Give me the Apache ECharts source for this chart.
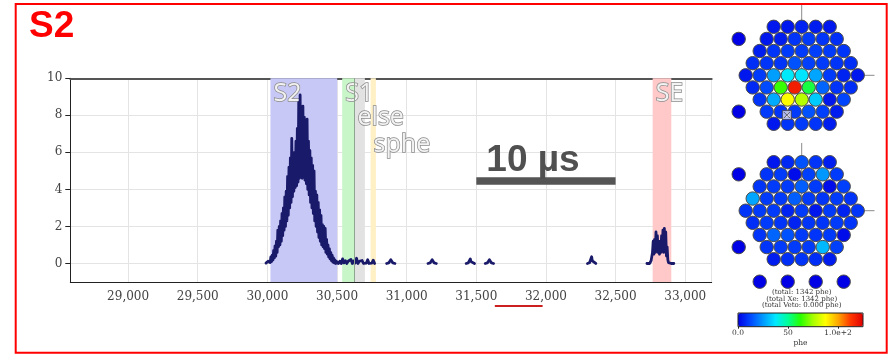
<!DOCTYPE html>
<html>
<head>
<meta charset="utf-8">
<script src="https://cdn.jsdelivr.net/npm/echarts@6/dist/echarts.min.js"></script>
<style>
  html, body { margin: 0; padding: 0; background: #ffffff; }
  #main { width: 889px; height: 355px; }
</style>
</head>
<body>
<div id="main"></div>
<script>
// ---- Summed PMT waveform: [time (ns), phe/sample] ----
const sumS2 = [
  [29990, 0.02], [29995, 0.1], [30000, 0.0], [30005, 0.12], [30010, 0.02], [30015, 0.2],
  [30020, 0.05], [30025, 0.35], [30030, 0.1], [30035, 0.45], [30040, 0.2], [30045, 0.7],
  [30050, 0.3], [30055, 0.95], [30060, 0.4], [30065, 1.2], [30070, 0.6], [30075, 1.8],
  [30080, 0.9], [30085, 2.0], [30090, 1.0], [30095, 2.3], [30100, 1.2], [30105, 2.7],
  [30110, 1.5], [30115, 3.0], [30120, 1.8], [30125, 3.6], [30130, 2.0], [30135, 3.9],
  [30140, 2.3], [30145, 4.7], [30150, 2.6], [30155, 5.2], [30160, 3.0], [30165, 5.7],
  [30170, 3.3], [30175, 6.75], [30180, 3.6], [30185, 5.8], [30190, 3.9], [30195, 6.0],
  [30200, 4.1], [30205, 6.6], [30210, 4.2], [30215, 7.3], [30220, 4.4], [30225, 8.7],
  [30230, 4.6], [30235, 9.1], [30240, 5.0], [30245, 8.4], [30250, 4.6], [30255, 8.5],
  [30260, 4.7], [30265, 7.9], [30270, 4.5], [30275, 7.7], [30280, 4.3], [30285, 7.8],
  [30290, 4.0], [30295, 6.6], [30300, 3.7], [30305, 6.1], [30310, 3.3], [30315, 5.7],
  [30320, 3.0], [30325, 5.3], [30330, 2.7], [30335, 5.0], [30340, 2.3], [30345, 3.9],
  [30350, 2.0], [30355, 3.7], [30360, 1.7], [30365, 3.3], [30370, 1.4], [30375, 2.9],
  [30380, 1.2], [30385, 2.6], [30390, 1.0], [30395, 2.1], [30400, 0.9], [30405, 2.0],
  [30410, 0.8], [30415, 1.9], [30420, 0.6], [30425, 1.3], [30430, 0.5], [30435, 1.0],
  [30440, 0.35], [30445, 0.8], [30450, 0.25], [30455, 0.6], [30460, 0.15], [30465, 0.45],
  [30470, 0.08], [30475, 0.3], [30480, 0.03], [30485, 0.2], [30490, 0.0], [30495, 0.12],
  [30500, 0.02]
];
const sumTail = [
  [30510, 0.0], [30520, 0.12], [30530, 0.0], [30540, 0.25], [30550, 0.03], [30560, 0.15],
  [30570, 0.0], [30580, 0.12], [30590, 0.02], [30600, 0.22], [30610, 0.0], [30620, 0.14],
  [30630, 0.02], [30640, 0.28], [30650, 0.0], [30660, 0.12], [30670, 0.02], [30680, 0.16],
  [30690, 0.0], [30700, 0.1], [30710, 0.02], [30720, 0.2], [30730, 0.0], [30740, 0.1],
  [30750, 0.02], [30760, 0.18], [30770, 0.0]
];
const sumSphe1 = [[30856, 0], [30871, 0.03], [30881, 0.1], [30886, 0.2], [30891, 0.1], [30901, 0.03], [30916, 0]];
const sumSphe2 = [[31153, 0], [31168, 0.03], [31178, 0.1], [31183, 0.2], [31188, 0.1], [31198, 0.03], [31213, 0]];
const sumSphe3 = [[31427, 0], [31442, 0.03], [31452, 0.1], [31457, 0.24], [31462, 0.1], [31472, 0.03], [31487, 0]];
const sumSphe4 = [[31564, 0], [31579, 0.03], [31589, 0.1], [31594, 0.2], [31599, 0.1], [31609, 0.03], [31624, 0]];
const sumSphe5 = [[32298, 0], [32313, 0.04], [32323, 0.14], [32328, 0.36], [32333, 0.14], [32343, 0.04], [32358, 0]];
const sumSE = [
  [32725, 0.0], [32735, 0.1], [32745, 0.0], [32755, 0.15], [32760, 0.05], [32765, 0.6],
  [32770, 1.2], [32775, 0.5], [32780, 1.3], [32785, 0.6], [32790, 1.7], [32795, 0.7],
  [32800, 1.5], [32805, 0.6], [32810, 1.1], [32815, 0.5], [32820, 1.2], [32825, 0.6],
  [32830, 1.5], [32835, 0.7], [32840, 1.8], [32845, 0.6], [32850, 1.9], [32855, 0.7],
  [32860, 1.7], [32865, 0.4], [32870, 0.9], [32875, 0.2], [32880, 0.05], [32890, 0.12],
  [32900, 0.0], [32910, 0.06], [32918, 0.0]
];

// ---- Pulse classification windows (ns) ----
const bandNames = ['S2', 'S1', 'else', 'sphe', 'SE'];
const bandStart = [30022, 30537, 30626, 30741, 32766];
const bandEnd   = [30501, 30624, 30700, 30779, 32900];
const bandColors = ['#c8c8f7', '#c8f6c8', '#e2e2e2', '#fff0c6', '#ffc9c9'];
const bandLabelRow = [0, 0, 1, 2, 0];
const s1Edge = [30624];

// ---- Annotations ----
const scaleBar = [31500, 32500];   // ns
const scaleBarLevel = 4.45;
const scaleBarText = '10 µs';
const cursorSpan = [31633, 31976];
const cursorLevel = -2.3;

// ---- PMT hit pattern (phe), hex rows from top to bottom ----
const topPhe = [
  [4, 4, 6, 5, 4],
  [4, 5, 9, 10, 9, 8],
  [5, 9, 10, 10, 11, 10, 9],
  [8, 9, 9, 14, 11, 10, 9, 8],
  [4, 10, 26, 38, 37, 27, 10, 6, 4],
  [7, 13, 64, 118, 57, 17, 9, 8],
  [9, 28, 88, 77, 33, 4, 12],
  [10, 9, 10, 14, 11, 5],
  [4, 9, 10, 9, 5]
];
const topOuterPhe = [0, 0];
const bottomPhe = [
  [4, 7, 14, 9, 5],
  [9, 10, 2, 11, 25, 10],
  [9, 10, 10, 16, 10, 2, 11],
  [27, 10, 10, 16, 10, 9, 10, 9],
  [9, 10, 10, 6, 10, 4, 10, 6, 9],
  [8, 10, 9, 6, 9, 9, 10, 9],
  [9, 17, 14, 10, 9, 10, 2],
  [9, 10, 10, 10, 30, 11],
  [5, 8, 9, 8, 5]
];
const bottomOuterPhe = [0, 0, 0, 0, 0, 0];
const totalsText = ['(total: 1342 phe)', '(total Xe: 1342 phe)', '(total Veto: 0.000 phe)'];
const colorbarMax = 125;
const colorbarTicks = { 0: '0.0', 50: '50', 100: '1.0e+2' };

// Layout of the arrays, in units of the PMT pitch
const ROW_H = Math.sqrt(3) / 2;
const topOuterPos = [[-4.5, 3 * ROW_H], [-4.5, -3 * ROW_H]];
const bottomOuterPos = [[-4.5, 3 * ROW_H], [-4.5, -3 * ROW_H], [-3, -5.07], [-1, -5.07], [1, -5.07], [3, -5.07]];
const topMarkerPos = [-1.06, -2.84];

function hexPoints(rows, outerPos, outerVals) {
  const mid = (rows.length - 1) / 2;
  const pts = [];
  rows.forEach((row, r) => {
    row.forEach((v, i) => pts.push([i - (row.length - 1) / 2, (mid - r) * ROW_H, v]));
  });
  outerPos.forEach((p, k) => pts.push([p[0], p[1], outerVals[k]]));
  return pts;
}

function gap(t) { return [t, '-']; }
const waveform = [].concat(
  sumS2, sumTail, [gap(30810)],
  sumSphe1, [gap(31000)],
  sumSphe2, [gap(31300)],
  sumSphe3, [gap(31520)],
  sumSphe4, [gap(32000)],
  sumSphe5, [gap(32600)],
  sumSE
);

// Hex-array axes extents (pitch units)
const hexX = [-5.5, 5.2];
const topY = [-5.0, 5.02];
const botY = [-5.8, 4.84];
const PITCH = 14;

const serif = 'DejaVu Serif';
const thousands = v => String(Math.round(v)).replace(/\B(?=(\d{3})+(?!\d))/g, ',');

const bandData = bandNames.map((name, i) => [
  {
    name: name,
    xAxis: bandStart[i],
    itemStyle: { color: bandColors[i] },
    label: { offset: [0, [0, 24.5, 51][bandLabelRow[i]]] }
  },
  { xAxis: bandEnd[i] }
]);

const chart = echarts.init(document.getElementById('main'));
const option = {
  animation: false,
  backgroundColor: '#ffffff',
  title: [
    {
      text: 'S2', left: 29, top: 8, padding: 0,
      textStyle: { color: '#ff0000', fontSize: 37, fontWeight: 'bold', fontFamily: 'Liberation Sans' }
    }
  ].concat(totalsText.map((t, i) => ({
    text: t, left: 801.7, top: 289 + i * 6.3, padding: 0, textAlign: 'center',
    textStyle: { color: '#333', fontSize: 7, fontWeight: 'normal', fontFamily: serif }
  }))),
  graphic: [
    {
      type: 'rect', silent: true, z: 100,
      shape: { x: 15.7, y: 4, width: 871, height: 348.7 },
      style: { fill: 'none', stroke: '#ff0000', lineWidth: 2 }
    }
  ],
  grid: [
    { left: 70.3, top: 78.3, width: 641.4, height: 203.7 },
    { left: 801.7 + hexX[0] * PITCH, top: 75.3 - topY[1] * PITCH,
      width: (hexX[1] - hexX[0]) * PITCH, height: (topY[1] - topY[0]) * PITCH },
    { left: 801.7 + hexX[0] * PITCH, top: 210.7 - botY[1] * PITCH,
      width: (hexX[1] - hexX[0]) * PITCH, height: (botY[1] - botY[0]) * PITCH },
    { left: 738, top: 313, width: 125, height: 13.7, show: true, z: 10,
      borderColor: '#222', borderWidth: 1, backgroundColor: 'transparent' }
  ],
  xAxis: [
    {
      gridIndex: 0, type: 'value', min: 28585, max: 33190, minInterval: 500, maxInterval: 500, splitNumber: 9,
      axisLine: { onZero: false, lineStyle: { color: '#222', width: 1 } },
      axisTick: { show: false },
      axisLabel: { formatter: thousands, color: '#444', fontSize: 12, fontFamily: serif, margin: 9,
                   showMinLabel: false, showMaxLabel: false },
      splitLine: { show: true, lineStyle: { color: '#e4e4e4', width: 1 } }
    },
    {
      gridIndex: 0, type: 'value', position: 'top', min: 28585, max: 33190,
      axisLine: { onZero: false, lineStyle: { color: '#555', width: 2 } },
      axisTick: { show: false }, axisLabel: { show: false }, splitLine: { show: false }
    },
    { gridIndex: 1, type: 'value', min: hexX[0], max: hexX[1], show: false },
    { gridIndex: 2, type: 'value', min: hexX[0], max: hexX[1], show: false },
    {
      gridIndex: 3, type: 'value', min: 0, max: colorbarMax, interval: 50,
      name: 'phe', nameLocation: 'middle', nameGap: 12,
      nameTextStyle: { color: '#333', fontSize: 7.5, fontFamily: serif },
      axisLine: { show: false },
      axisTick: { show: true, length: 2, lineStyle: { color: '#222' } },
      axisLabel: { formatter: v => colorbarTicks[v] || '', color: '#333', fontSize: 7.5,
                   fontFamily: serif, margin: 2.5, showMaxLabel: false },
      splitLine: { show: false }
    }
  ],
  yAxis: [
    {
      gridIndex: 0, type: 'value', min: -1, max: 10, minInterval: 2, maxInterval: 2, splitNumber: 5,
      axisLine: { show: true, onZero: false, lineStyle: { color: '#222', width: 1 } },
      axisTick: { show: true, length: 5, lineStyle: { color: '#222' } },
      axisLabel: { color: '#444', fontSize: 12, fontFamily: serif, margin: 8, showMinLabel: false },
      splitLine: { show: true, lineStyle: { color: '#e4e4e4', width: 1 } }
    },
    { gridIndex: 1, type: 'value', min: topY[0], max: topY[1], show: false },
    { gridIndex: 2, type: 'value', min: botY[0], max: botY[1], show: false },
    { gridIndex: 3, type: 'value', min: 0, max: 1, show: false }
  ],
  visualMap: {
    type: 'continuous', seriesIndex: [5, 8], min: 0, max: colorbarMax, dimension: 2,
    orient: 'horizontal', left: 738, top: 313, itemWidth: 13.7, itemHeight: 125,
    padding: 0, calculable: false, hoverLink: false, text: null, z: 5,
    inRange: { color: ['#0000e6', '#0048ff', '#0098ff', '#00e8ff', '#00ff98', '#28ff00',
                       '#a8ff00', '#ffff00', '#ffa800', '#ff3800', '#e00000'] }
  },
  series: [
    {
      // 0: classification windows
      type: 'line', xAxisIndex: 0, yAxisIndex: 0, data: [], z: 1, silent: true,
      markArea: {
        silent: true,
        label: {
          show: true, position: 'insideTopLeft', distance: 3,
          color: '#f2f2f2', fontSize: 25, fontFamily: 'Open Sans',
          textBorderColor: '#8c8c8c', textBorderWidth: 1.5
        },
        data: bandData
      },
      markLine: {
        silent: true, symbol: 'none', label: { show: false },
        lineStyle: { color: '#8fa58f', width: 1, type: 'solid' },
        data: s1Edge.map(v => ({ xAxis: v }))
      }
    },
    {
      // 1: summed waveform
      type: 'line', xAxisIndex: 0, yAxisIndex: 0, data: waveform, z: 3,
      showSymbol: false, symbol: 'none', connectNulls: false,
      lineStyle: { color: '#1a1a6a', width: 2.8, join: 'round', cap: 'round' }
    },
    {
      // 2: time scale bar
      type: 'line', xAxisIndex: 0, yAxisIndex: 0, z: 4, symbolSize: 0, showSymbol: true,
      lineStyle: { color: '#555', width: 7.5, cap: 'butt' },
      data: [
        { value: [scaleBar[0], scaleBarLevel],
          label: { show: true, formatter: scaleBarText, position: [10, -2], verticalAlign: 'bottom',
                   align: 'left', color: '#505050', fontSize: 37, fontWeight: 'bold',
                   fontFamily: 'Liberation Sans' } },
        [scaleBar[1], scaleBarLevel]
      ]
    },
    {
      // 3: cursor span under the time axis
      type: 'line', xAxisIndex: 0, yAxisIndex: 0, z: 4, clip: false, symbol: 'none',
      lineStyle: { color: '#cc1f1f', width: 2 },
      data: cursorSpan.map(t => [t, cursorLevel])
    },
    {
      // 4: top array reference axes
      type: 'line', xAxisIndex: 2, yAxisIndex: 1, z: 1, symbol: 'none', silent: true,
      lineStyle: { color: '#8a8a8a', width: 1 },
      data: [[0, topY[1]], [0, 0], [hexX[1], 0]]
    },
    {
      // 5: top array PMTs
      type: 'scatter', xAxisIndex: 2, yAxisIndex: 1, z: 2, symbolSize: 13.4,
      itemStyle: { borderColor: '#4a4a4a', borderWidth: 1, opacity: 1 },
      data: hexPoints(topPhe, topOuterPos, topOuterPhe)
    },
    {
      // 6: top array position marker
      type: 'scatter', xAxisIndex: 2, yAxisIndex: 1, z: 3, symbolSize: 9,
      symbol: 'path://M0,0H10V10H0Z M1.5,1.5L8.5,8.5 M8.5,1.5L1.5,8.5',
      itemStyle: { color: '#d9d9f2', borderColor: '#3a3a3a', borderWidth: 0.9 },
      data: [topMarkerPos]
    },
    {
      // 7: bottom array reference axes
      type: 'line', xAxisIndex: 3, yAxisIndex: 2, z: 1, symbol: 'none', silent: true,
      lineStyle: { color: '#8a8a8a', width: 1 },
      data: [[0, botY[1]], [0, 0], [hexX[1], 0]]
    },
    {
      // 8: bottom array PMTs
      type: 'scatter', xAxisIndex: 3, yAxisIndex: 2, z: 2, symbolSize: 13.4,
      itemStyle: { borderColor: '#4a4a4a', borderWidth: 1, opacity: 1 },
      data: hexPoints(bottomPhe, bottomOuterPos, bottomOuterPhe)
    }
  ]
};
chart.setOption(option);
</script>
</body>
</html>
